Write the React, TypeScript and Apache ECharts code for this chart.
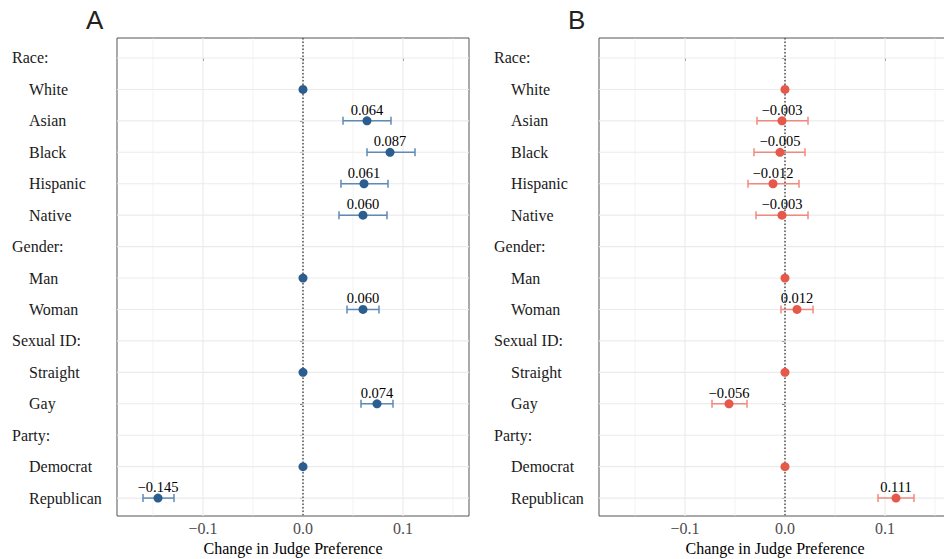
import React, { useEffect, useRef } from "react";
import * as echarts from "echarts";

const rowLabels = ["Race:", "White", "Asian", "Black", "Hispanic", "Native", "Gender:", "Man", "Woman", "Sexual ID:", "Straight", "Gay", "Party:", "Democrat", "Republican"];
const headerRows = ["Race:", "Gender:", "Sexual ID:", "Party:"];

const estA = [null, 0, 0.064, 0.087, 0.061, 0.060, null, 0, 0.060, null, 0, 0.074, null, 0, -0.145];
const lowA = [null, null, 0.040, 0.064, 0.038, 0.036, null, null, 0.044, null, null, 0.058, null, null, -0.160];
const highA = [null, null, 0.088, 0.112, 0.085, 0.084, null, null, 0.076, null, null, 0.090, null, null, -0.129];

const estB = [null, 0, -0.003, -0.005, -0.012, -0.003, null, 0, 0.012, null, 0, -0.056, null, 0, 0.111];
const lowB = [null, null, -0.028, -0.031, -0.037, -0.029, null, null, -0.004, null, null, -0.073, null, null, 0.093];
const highB = [null, null, 0.023, 0.020, 0.014, 0.023, null, null, 0.028, null, null, -0.038, null, null, 0.129];

const xTicks = [-0.1, 0, 0.1];
const xMinor = [-0.15, -0.05, 0.05, 0.15];
const X_MIN = -0.186;
const X_MAX = 0.166;
const Y_MIN = -0.636;
const Y_MAX = 14.57;

const SERIF = '"Liberation Serif", "Times New Roman", serif';

const fmt = (v: number, d: number) => {
  const s = v.toFixed(d);
  return s.startsWith("-") ? "\u2212" + s.slice(1) : s;
};

function panel(idx: number, left: number, est: (number | null)[], low: (number | null)[], high: (number | null)[], pointColor: string, barColor: string) {
  const grid = {
    left,
    top: 38,
    width: 352,
    height: 478,
    show: true,
    borderColor: "#555555",
    borderWidth: 1,
    backgroundColor: "transparent",
    containLabel: false,
    outerBoundsMode: "none",
  };
  const xAxis = {
    type: "value",
    gridIndex: idx,
    min: X_MIN,
    max: X_MAX,
    axisLine: { show: false },
    splitLine: { show: false },
    axisTick: { show: true, customValues: xTicks, length: 3, lineStyle: { color: "#555" } },
    axisLabel: {
      customValues: xTicks,
      formatter: (v: number) => fmt(v, 1),
      fontFamily: SERIF,
      fontSize: 16,
      color: "#4d4d4d",
      margin: 4,
    },
    name: "Change in Judge Preference",
    nameLocation: "middle",
    nameGap: 22,
    nameTextStyle: { fontFamily: SERIF, fontSize: 16, color: "#000" },
  };
  const yAxis = {
    type: "value",
    gridIndex: idx,
    min: Y_MIN,
    max: Y_MAX,
    inverse: true,
    axisLine: { show: false },
    splitLine: { show: false },
    axisTick: { show: true, customValues: rowLabels.map((_, i) => i), length: 3, lineStyle: { color: "#555" } },
    axisLabel: {
      customValues: rowLabels.map((_, i) => i),
      formatter: (v: number) => {
        const lab = rowLabels[Math.round(v)] ?? "";
        return headerRows.includes(lab) ? "{h|" + lab + "}" : "{n|" + lab + "}";
      },
      align: "left",
      margin: 105,
      rich: {
        h: { fontFamily: SERIF, fontSize: 16, color: "#1a1a1a" },
        n: { fontFamily: SERIF, fontSize: 16, color: "#1a1a1a", padding: [0, 0, 0, 17] },
      },
    },
  };

  const gridData = [
    ...xTicks.map((v) => [v, 1]),
    ...xMinor.map((v) => [v, 0]),
  ];
  const rowData = rowLabels.map((_, i) => [i]);

  const pts: number[][] = [];
  const bars: number[][] = [];
  const labs: number[][] = [];
  est.forEach((e, i) => {
    if (e === null) return;
    pts.push([e, i]);
    if (low[i] !== null && high[i] !== null) {
      bars.push([i, low[i] as number, high[i] as number]);
      labs.push([e, i]);
    }
  });

  const series: any[] = [
    {
      type: "custom",
      xAxisIndex: idx,
      yAxisIndex: idx,
      silent: true,
      z: 1,
      data: gridData,
      encode: { x: 0 },
      renderItem: (_p: any, api: any) => {
        const v = api.value(0);
        const major = api.value(1) === 1;
        const a = api.coord([v, Y_MIN]);
        const b = api.coord([v, Y_MAX]);
        return {
          type: "line",
          shape: { x1: a[0], y1: a[1], x2: b[0], y2: b[1] },
          style: { stroke: "#ebebeb", lineWidth: major ? 1.1 : 0.6 },
        };
      },
    },
    {
      type: "custom",
      xAxisIndex: idx,
      yAxisIndex: idx,
      silent: true,
      z: 1,
      data: rowData,
      encode: { y: 0 },
      renderItem: (_p: any, api: any) => {
        const r = api.value(0);
        const a = api.coord([X_MIN, r]);
        const b = api.coord([X_MAX, r]);
        return {
          type: "line",
          shape: { x1: a[0], y1: a[1], x2: b[0], y2: b[1] },
          style: { stroke: "#ebebeb", lineWidth: 1.1 },
        };
      },
    },
    {
      type: "custom",
      xAxisIndex: idx,
      yAxisIndex: idx,
      silent: true,
      z: 2,
      data: [[0]],
      encode: { x: 0 },
      renderItem: (_p: any, api: any) => {
        const a = api.coord([0, Y_MIN]);
        const b = api.coord([0, Y_MAX]);
        return {
          type: "line",
          shape: { x1: a[0], y1: a[1], x2: b[0], y2: b[1] },
          style: { stroke: "#000", lineWidth: 1, lineDash: [1.5, 2] },
        };
      },
    },
    {
      type: "custom",
      xAxisIndex: idx,
      yAxisIndex: idx,
      silent: true,
      z: 3,
      data: bars,
      encode: { y: 0, x: [1, 2] },
      renderItem: (_p: any, api: any) => {
        const r = api.value(0);
        const a = api.coord([api.value(1), r]);
        const b = api.coord([api.value(2), r]);
        const st = { stroke: barColor, lineWidth: 1.5 };
        return {
          type: "group",
          children: [
            { type: "line", shape: { x1: a[0], y1: a[1], x2: b[0], y2: b[1] }, style: st },
            { type: "line", shape: { x1: a[0], y1: a[1] - 4, x2: a[0], y2: a[1] + 4 }, style: st },
            { type: "line", shape: { x1: b[0], y1: b[1] - 4, x2: b[0], y2: b[1] + 4 }, style: st },
          ],
        };
      },
    },
    {
      type: "scatter",
      xAxisIndex: idx,
      yAxisIndex: idx,
      z: 4,
      symbolSize: 9,
      itemStyle: { color: pointColor, opacity: 1 },
      data: pts,
      silent: true,
    },
    {
      type: "custom",
      xAxisIndex: idx,
      yAxisIndex: idx,
      silent: true,
      z: 5,
      data: labs,
      encode: { x: 0, y: 1 },
      renderItem: (_p: any, api: any) => {
        const v = api.value(0);
        const c = api.coord([v, api.value(1)]);
        return {
          type: "text",
          x: c[0],
          y: c[1] - 11,
          style: {
            text: fmt(v, 3),
            fill: "#000",
            font: '14.5px "Liberation Serif", serif',
            align: "center",
            verticalAlign: "middle",
          },
        };
      },
    },
  ];
  return { grid, xAxis, yAxis, series };
}

export default function App() {
  const ref = useRef<HTMLDivElement>(null);
  useEffect(() => {
    if (!ref.current) return;
    const chart = echarts.init(ref.current, null, { renderer: "svg" });
    const pA = panel(0, 117, estA, lowA, highA, "#2c5d8f", "#5f8ab8");
    const pB = panel(1, 599, estB, lowB, highB, "#e5584a", "#f08a7f");
    chart.setOption({
      animation: false,
      backgroundColor: "#ffffff",
      grid: [pA.grid, pB.grid],
      xAxis: [pA.xAxis, pB.xAxis],
      yAxis: [pA.yAxis, pB.yAxis],
      series: [...pA.series, ...pB.series],
      graphic: [
        { type: "text", x: 86, y: 20, style: { text: "A", font: '26px "Liberation Sans", Arial, sans-serif', fill: "#222", verticalAlign: "middle" } },
        { type: "text", x: 568, y: 20, style: { text: "B", font: '26px "Liberation Sans", Arial, sans-serif', fill: "#222", verticalAlign: "middle" } },
      ],
    });
    return () => chart.dispose();
  }, []);
  return (
    <div
      ref={ref}
      style={{ position: "absolute", left: 0, top: 0, width: 944, height: 559, background: "#fff" }}
    />
  );
}
